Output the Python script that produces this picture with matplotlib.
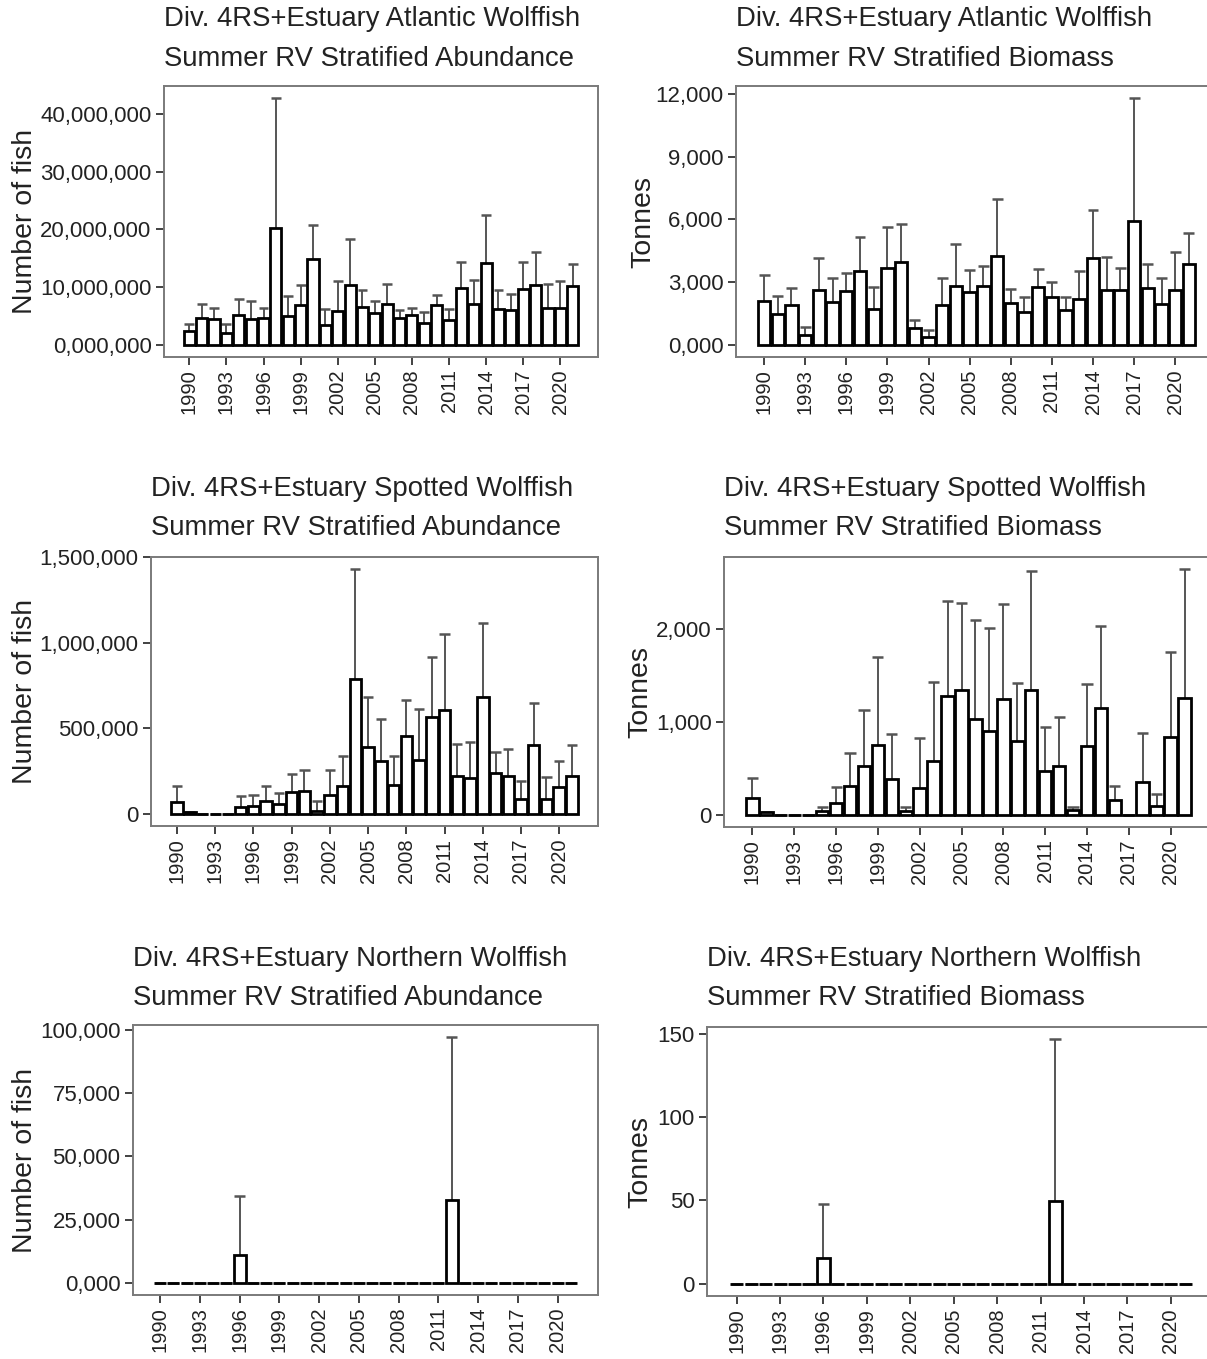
import numpy as np
import matplotlib
matplotlib.use("Agg")
import matplotlib.pyplot as plt

plt.rcParams['font.family'] = ['Liberation Sans', 'DejaVu Sans']

# Survey years and labelled x ticks
years = list(range(1990, 2022))
xtick_years = list(range(1990, 2021, 3))

# Atlantic wolffish - stratified abundance (number of fish) and upper limit
atl_abund = [2400000, 4700000, 4500000, 2000000, 5100000, 4500000, 4600000, 20200000,
             5000000, 6800000, 14800000, 3400000, 5900000, 10400000, 6500000, 5500000,
             7100000, 4700000, 5100000, 3700000, 6800000, 4300000, 9900000, 7000000,
             14100000, 6100000, 6000000, 9600000, 10300000, 6400000, 6400000, 10100000]
atl_abund_up = [3600000, 7000000, 6300000, 3600000, 8000000, 7600000, 6300000, 42700000,
                8400000, 10300000, 20700000, 6100000, 11000000, 18300000, 9400000, 7600000,
                10600000, 6000000, 6400000, 5700000, 8600000, 6100000, 14400000, 11200000,
                22400000, 9400000, 8700000, 14300000, 16000000, 10600000, 11000000, 13900000]

# Atlantic wolffish - stratified biomass (tonnes)
atl_biom = [2100, 1460, 1880, 450, 2620, 2050, 2560, 3510, 1730, 3660, 3960, 780, 350, 1880,
            2810, 2530, 2830, 4260, 1990, 1560, 2750, 2260, 1670, 2190, 4130, 2620, 2620,
            5900, 2720, 1940, 2610, 3880]
atl_biom_up = [3340, 2310, 2700, 830, 4130, 3180, 3450, 5170, 2750, 5640, 5800, 1190, 680,
               3210, 4820, 3580, 3780, 6980, 2660, 2260, 3640, 3020, 2260, 3550, 6470, 4180,
               3660, 11800, 3850, 3180, 4450, 5360]

# Spotted wolffish - stratified abundance
spo_abund = [68000, 8000, 0, 0, 0, 39000, 45000, 77000, 58000, 126000, 134000, 15000,
             110000, 164000, 790000, 391000, 310000, 168000, 453000, 315000, 565000, 604000,
             223000, 207000, 683000, 236000, 223000, 87000, 404000, 87000, 159000, 223000]
spo_abund_up = [165000, 8000, 0, 0, 0, 106000, 110000, 161000, 120000, 232000, 255000, 72000,
                255000, 339000, 1430000, 681000, 557000, 335000, 666000, 612000, 915000,
                1051000, 410000, 420000, 1118000, 364000, 377000, 191000, 645000, 213000,
                310000, 401000]

# Spotted wolffish - stratified biomass
spo_biom = [182, 25, 0, 0, 0, 36, 128, 314, 528, 752, 385, 39, 289, 574, 1276, 1337, 1027,
            902, 1241, 795, 1337, 467, 520, 53, 742, 1144, 153, 0, 357, 93, 831, 1258]
spo_biom_up = [396, 25, 0, 0, 0, 82, 296, 663, 1123, 1693, 866, 82, 820, 1426, 2299, 2274,
               2089, 2007, 2264, 1419, 2624, 948, 1055, 82, 1405, 2028, 314, 0, 873, 225,
               1750, 2638]

# Northern wolffish - only two non-zero years
nor_abund = [0] * 32
nor_abund_up = [0] * 32
nor_abund[6], nor_abund_up[6] = 10800, 34300
nor_abund[22], nor_abund_up[22] = 32900, 97200

nor_biom = [0] * 32
nor_biom_up = [0] * 32
nor_biom[6], nor_biom_up[6] = 15.3, 48.0
nor_biom[22], nor_biom_up[22] = 49.6, 146.6

# Y tick positions and labels per panel
yt_atl_abund = [0, 10000000, 20000000, 30000000, 40000000]
yl_atl_abund = ["0,000,000", "10,000,000", "20,000,000", "30,000,000", "40,000,000"]
yt_atl_biom = [0, 3000, 6000, 9000, 12000]
yl_atl_biom = ["0,000", "3,000", "6,000", "9,000", "12,000"]
yt_spo_abund = [0, 500000, 1000000, 1500000]
yl_spo_abund = ["0", "500,000", "1,000,000", "1,500,000"]
yt_spo_biom = [0, 1000, 2000]
yl_spo_biom = ["0", "1,000", "2,000"]
yt_nor_abund = [0, 25000, 50000, 75000, 100000]
yl_nor_abund = ["0,000", "25,000", "50,000", "75,000", "100,000"]
yt_nor_biom = [0, 50, 100, 150]
yl_nor_biom = ["0", "50", "100", "150"]

W, H = 1207, 1359
fig = plt.figure(figsize=(W / 100, H / 100), dpi=100)

panels = [
    dict(box=(164, 86, 598, 357), v=atl_abund, up=atl_abund_up, yt=yt_atl_abund, yl=yl_atl_abund,
         t1="Div. 4RS+Estuary Atlantic Wolffish", t2="Summer RV Stratified Abundance",
         ty=(19, 59), ylab="Number of fish", labx=25),
    dict(box=(736, 86, 1217, 357), v=atl_biom, up=atl_biom_up, yt=yt_atl_biom, yl=yl_atl_biom,
         t1="Div. 4RS+Estuary Atlantic Wolffish", t2="Summer RV Stratified Biomass",
         ty=(19, 59), ylab="Tonnes", labx=643),
    dict(box=(151, 557, 598, 826), v=spo_abund, up=spo_abund_up, yt=yt_spo_abund, yl=yl_spo_abund,
         t1="Div. 4RS+Estuary Spotted Wolffish", t2="Summer RV Stratified Abundance",
         ty=(489, 528), ylab="Number of fish", labx=25),
    dict(box=(724, 557, 1213, 827), v=spo_biom, up=spo_biom_up, yt=yt_spo_biom, yl=yl_spo_biom,
         t1="Div. 4RS+Estuary Spotted Wolffish", t2="Summer RV Stratified Biomass",
         ty=(489, 528), ylab="Tonnes", labx=640),
    dict(box=(133, 1025, 598, 1295), v=nor_abund, up=nor_abund_up, yt=yt_nor_abund, yl=yl_nor_abund,
         t1="Div. 4RS+Estuary Northern Wolffish", t2="Summer RV Stratified Abundance",
         ty=(959, 998), ylab="Number of fish", labx=25),
    dict(box=(707, 1027, 1215, 1296), v=nor_biom, up=nor_biom_up, yt=yt_nor_biom, yl=yl_nor_biom,
         t1="Div. 4RS+Estuary Northern Wolffish", t2="Summer RV Stratified Biomass",
         ty=(959, 998), ylab="Tonnes", labx=640),
]

bar_w = 0.9
cap_half = 0.4
err_col = "#555555"
frame_col = "#7a7a7a"
tick_col = "#333333"
text_col = "#222222"

x = np.array(years)
for p in panels:
    l, t, r, b = p["box"]
    ax = fig.add_axes([l / W, 1 - b / H, (r - l) / W, (b - t) / H])
    v = np.array(p["v"], dtype=float)
    up = np.array(p["up"], dtype=float)

    # upper whiskers with caps, then open bars on top
    ax.vlines(x, v, up, color=err_col, linewidth=1.4, zorder=2)
    ax.hlines(up, x - cap_half, x + cap_half, color=err_col, linewidth=1.8, zorder=2)
    ax.bar(x, v, width=bar_w, facecolor="white", edgecolor="black", linewidth=2.0, zorder=3)

    lo, hi = x.min() - bar_w / 2, x.max() + bar_w / 2
    pad = 0.05 * (hi - lo)
    ax.set_xlim(lo - pad, hi + pad)
    top = up.max()
    ax.set_ylim(-0.05 * top, 1.05 * top)

    ax.set_xticks(xtick_years)
    ax.set_xticklabels([str(y) for y in xtick_years], rotation=90, fontsize=14.5, color=text_col)
    ax.set_yticks(p["yt"])
    ax.set_yticklabels(p["yl"], fontsize=16, color=text_col)
    ax.tick_params(axis="both", length=6, width=1.3, color=tick_col, pad=3)

    for s in ax.spines.values():
        s.set_color(frame_col)
        s.set_linewidth(1.4)

    ax.set_ylabel(p["ylab"], fontsize=20.5, va="center", color=text_col)
    ax.yaxis.set_label_coords(p["labx"] / W, 1 - (t + b) / 2 / H, transform=fig.transFigure)

    fig.text(l / W, 1 - p["ty"][0] / H, p["t1"], fontsize=19.8, ha="left", va="center", color=text_col)
    fig.text(l / W, 1 - p["ty"][1] / H, p["t2"], fontsize=19.8, ha="left", va="center", color=text_col)

fig.savefig("out.png", dpi=100, facecolor="white")
